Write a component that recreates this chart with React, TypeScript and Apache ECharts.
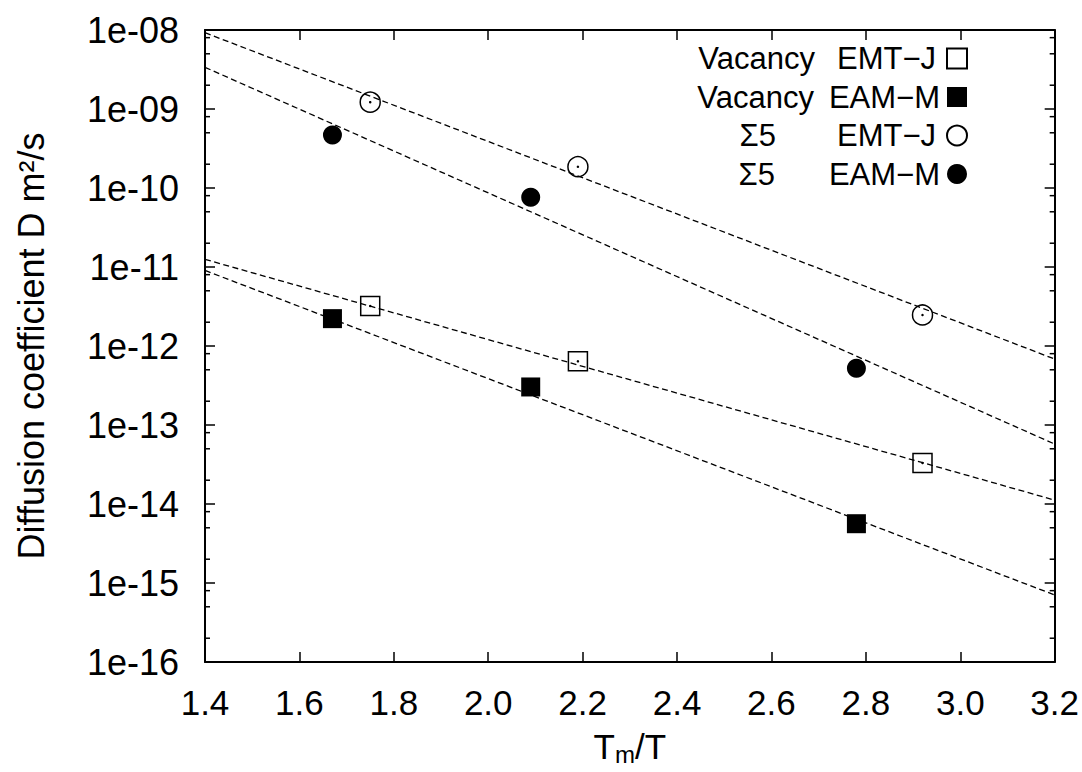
import React, { useEffect, useRef } from "react";
import * as echarts from "echarts";

// Tm/T values
const xVacEMT = [1.75, 2.19, 2.92];
const xVacEAM = [1.67, 2.09, 2.78];
const xSigEMT = [1.75, 2.19, 2.92];
const xSigEAM = [1.67, 2.09, 2.78];

// Diffusion coefficients (m^2/s)
const dVacEMT = [3.21e-12, 6.4e-13, 3.3e-14];
const dVacEAM = [2.22e-12, 3.03e-13, 5.63e-15];
const dSigEMT = [1.22e-9, 1.86e-10, 2.47e-12];
const dSigEAM = [4.69e-10, 7.62e-11, 5.22e-13];

// Arrhenius fit lines: values at Tm/T = 1.4 and 3.2
const fitX = [1.4, 3.2];
const fitSigEMT = [9.24e-9, 6.84e-13];
const fitSigEAM = [3.37e-9, 5.74e-14];
const fitVacEMT = [1.25e-11, 1.12e-14];
const fitVacEAM = [9.04e-12, 7.05e-16];

// Minor tick values on the log axis (2, 5, 8 per decade)
const minorTickValues = [
  2e-16, 5e-16, 8e-16, 2e-15, 5e-15, 8e-15, 2e-14, 5e-14, 8e-14,
  2e-13, 5e-13, 8e-13, 2e-12, 5e-12, 8e-12, 2e-11, 5e-11, 8e-11,
  2e-10, 5e-10, 8e-10, 2e-9, 5e-9, 8e-9,
];

const xMin = 1.4;
const xMax = 3.2;
const yMin = 1e-16;
const yMax = 1e-8;

const names = {
  vacEMT: "Vacancy EMT\u2212J",
  vacEAM: "Vacancy EAM\u2212M",
  sigEMT: "\u03A35 EMT\u2212J",
  sigEAM: "\u03A35 EAM\u2212M",
};

const FONT = "Liberation Sans, Arial, Helvetica, sans-serif";

function pairs(xs: number[], ys: number[]) {
  return xs.map((x, i) => [x, ys[i]]);
}

function fmtLog(v: number) {
  const e = Math.round(Math.log10(v));
  return "1e" + (e < 0 ? "-" : "+") + String(Math.abs(e)).padStart(2, "0");
}

export default function App() {
  const ref = useRef<HTMLDivElement>(null);
  useEffect(() => {
    if (!ref.current) return;
    const chart = echarts.init(ref.current, undefined, { renderer: "svg" });

    const dashed = {
      color: "#000",
      width: 1.3,
      type: [6, 3.5] as any,
    };
    const lineSeries = (data: number[]) => ({
      type: "line",
      data: pairs(fitX, data),
      showSymbol: false,
      symbol: "none",
      silent: true,
      lineStyle: dashed,
      z: 1,
    });

    const tickSeries = (x: number, dir: number) => ({
      type: "scatter",
      silent: true,
      clip: false,
      data: minorTickValues.map((v) => [x, v]),
      symbol: "rect",
      symbolSize: [5, 1.5],
      symbolOffset: [2.5 * dir, 0],
      itemStyle: { color: "#000", opacity: 1 },
      z: 5,
    });

    const legendFormatter = (name: string) => {
      if (name === names.vacEMT) return "{v1|Vacancy}{m1|EMT\u2212J}";
      if (name === names.vacEAM) return "{v2|Vacancy}{m2|EAM\u2212M}";
      if (name === names.sigEMT) return "{s1|\u03A35}{m1|EMT\u2212J}";
      return "{s2|\u03A35}{m2|EAM\u2212M}";
    };
    const LF = 31;
    const tok = (extra: any) => ({ fontSize: LF, fontFamily: FONT, color: "#000", align: "right", ...extra });

    chart.setOption({
      animation: false,
      backgroundColor: "#fff",
      textStyle: { fontFamily: FONT, color: "#000" },
      grid: { left: 205, right: 27, top: 30, bottom: 110 },
      legend: {
        data: [names.vacEMT, names.vacEAM, names.sigEMT, names.sigEAM],
        orient: "vertical",
        right: 109,
        top: 38,
        align: "right",
        itemWidth: 20,
        itemHeight: 20,
        itemGap: 7.5,
        selectedMode: false,
        formatter: legendFormatter,
        textStyle: {
          fontFamily: FONT,
          fontSize: LF,
          color: "#000",
          rich: {
            v1: tok({ padding: [0, 22, 0, 0] }),
            v2: tok({ padding: [0, 15, 0, 0] }),
            s1: tok({ padding: [0, 61, 0, 0] }),
            s2: tok({ padding: [0, 54, 0, 0] }),
            m1: tok({ padding: [0, 6, 0, 0] }),
            m2: tok({ padding: [0, 2, 0, 0] }),
          },
        },
      },
      xAxis: [
        {
          type: "value",
          min: xMin,
          max: xMax,
          interval: 0.2,
          position: "bottom",
          name: "T{sub|m}/T",
          nameLocation: "middle",
          nameGap: 64,
          nameTextStyle: {
            fontSize: 35,
            fontFamily: FONT,
            color: "#000",
            rich: {
              sub: { fontSize: 24, fontFamily: FONT, padding: [16, 0, 0, 0] },
            },
          },
          axisLine: { show: true, lineStyle: { color: "#000", width: 2 } },
          axisTick: { show: true, inside: true, length: 10, lineStyle: { color: "#000", width: 1.5 } },
          axisLabel: {
            fontSize: 35,
            fontFamily: FONT,
            color: "#000",
            margin: 23,
            formatter: (v: number) => v.toFixed(1),
          },
          splitLine: { show: false },
        },
        {
          type: "value",
          min: xMin,
          max: xMax,
          interval: 0.2,
          position: "top",
          axisLine: { show: true, lineStyle: { color: "#000", width: 2 } },
          axisTick: { show: true, inside: true, length: 10, lineStyle: { color: "#000", width: 1.5 } },
          axisLabel: { show: false },
          splitLine: { show: false },
        },
      ],
      yAxis: [
        {
          type: "log",
          logBase: 10,
          min: yMin,
          max: yMax,
          splitNumber: 8,
          position: "left",
          name: "Diffusion coefficient D m\u00B2/s",
          nameLocation: "middle",
          nameGap: 156,
          nameTextStyle: { fontSize: 36, fontFamily: FONT, color: "#000" },
          axisLine: { show: true, lineStyle: { color: "#000", width: 2 } },
          axisTick: { show: true, inside: true, length: 10, lineStyle: { color: "#000", width: 1.5 } },
          axisLabel: {
            fontSize: 36,
            fontFamily: FONT,
            color: "#000",
            margin: 26,
            formatter: fmtLog,
          },
          splitLine: { show: false },
        },
        {
          type: "log",
          logBase: 10,
          min: yMin,
          max: yMax,
          splitNumber: 8,
          position: "right",
          axisLine: { show: true, lineStyle: { color: "#000", width: 2 } },
          axisTick: { show: true, inside: true, length: 10, lineStyle: { color: "#000", width: 1.5 } },
          axisLabel: { show: false },
          splitLine: { show: false },
        },
      ],
      series: [
        lineSeries(fitSigEMT),
        lineSeries(fitSigEAM),
        lineSeries(fitVacEMT),
        lineSeries(fitVacEAM),
        tickSeries(xMin, 1),
        tickSeries(xMax, -1),
        {
          name: names.vacEMT,
          type: "scatter",
          data: pairs(xVacEMT, dVacEMT),
          symbol: "rect",
          symbolSize: 19,
          itemStyle: { color: "rgba(255,255,255,0)", borderColor: "#000", borderWidth: 1.5, opacity: 1 },
          z: 3,
        },
        {
          name: names.vacEAM,
          type: "scatter",
          data: pairs(xVacEAM, dVacEAM),
          symbol: "rect",
          symbolSize: 19,
          itemStyle: { color: "#000", opacity: 1 },
          z: 3,
        },
        {
          name: names.sigEMT,
          type: "scatter",
          data: pairs(xSigEMT, dSigEMT),
          symbol: "circle",
          symbolSize: 20,
          itemStyle: { color: "rgba(255,255,255,0)", borderColor: "#000", borderWidth: 1.5, opacity: 1 },
          z: 3,
        },
        {
          name: names.sigEAM,
          type: "scatter",
          data: pairs(xSigEAM, dSigEAM),
          symbol: "circle",
          symbolSize: 19,
          itemStyle: { color: "#000", opacity: 1 },
          z: 3,
        },
        {
          type: "scatter",
          silent: true,
          data: [...pairs(xVacEMT, dVacEMT), ...pairs(xSigEMT, dSigEMT)],
          symbol: "circle",
          symbolSize: 2.5,
          itemStyle: { color: "#000", opacity: 1 },
          z: 4,
        },
      ],
    });
    return () => chart.dispose();
  }, []);
  return (
    <div
      ref={ref}
      style={{ position: "fixed", left: 0, top: 0, width: 1082, height: 772, background: "#fff" }}
    />
  );
}
